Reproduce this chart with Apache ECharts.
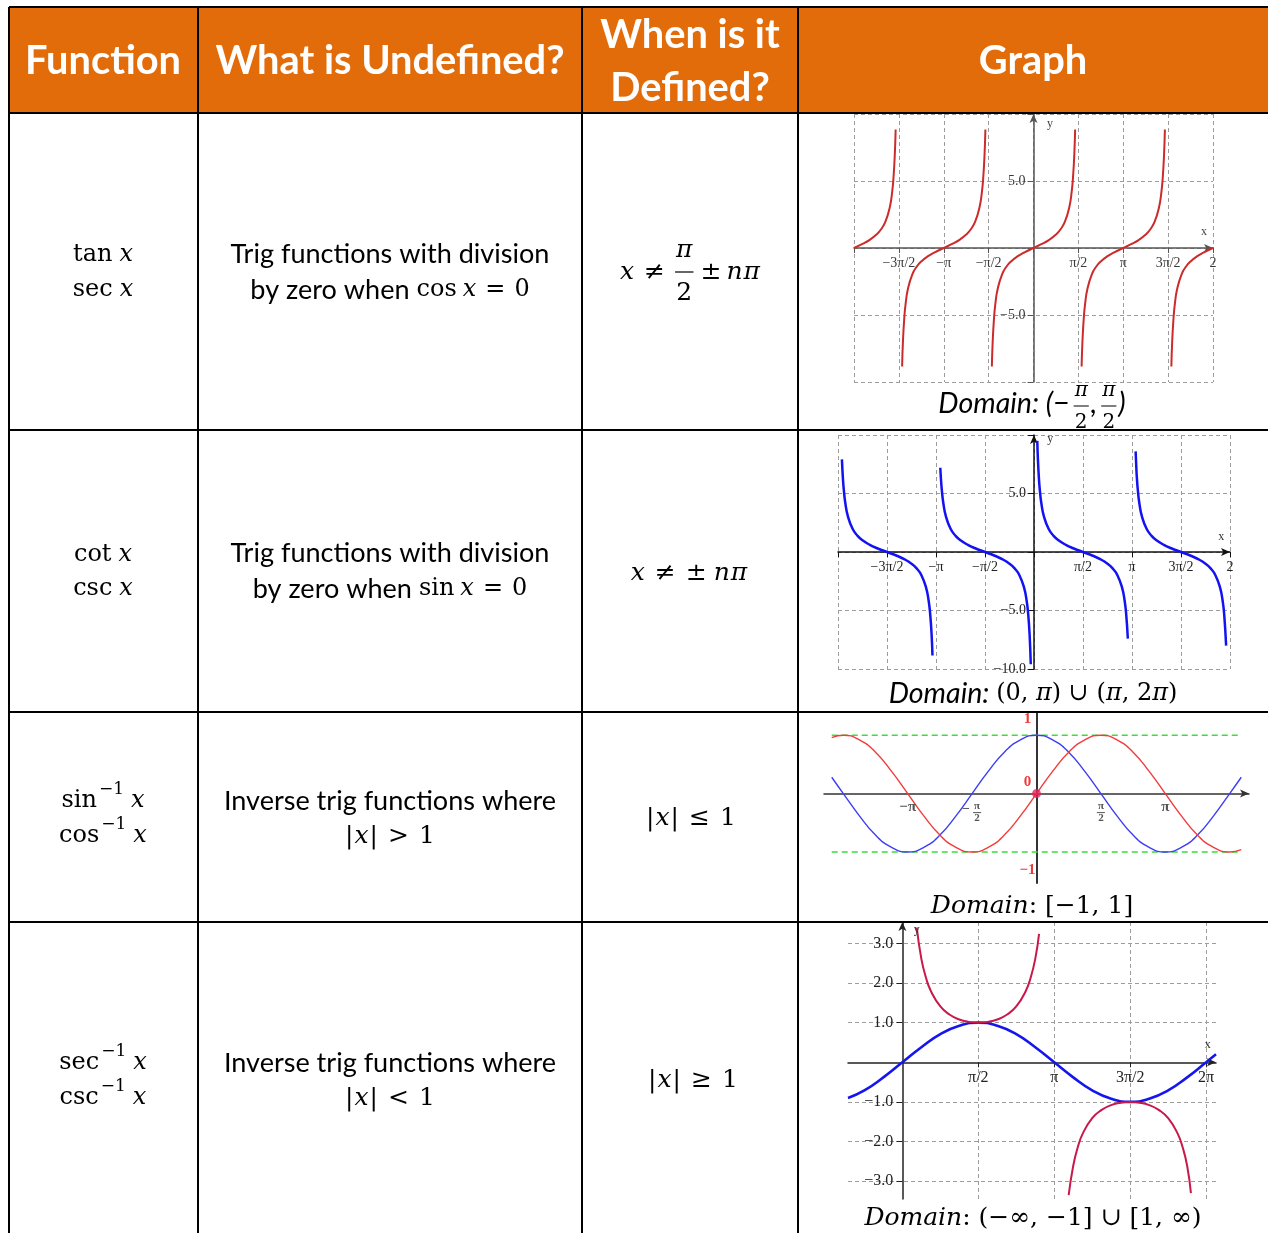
<!DOCTYPE html>
<html><head><meta charset="utf-8">
<script src="https://cdn.jsdelivr.net/npm/echarts@6/dist/echarts.min.js"></script>
<style>html,body{margin:0;padding:0;background:#fff}#c{width:1268px;height:1233px}</style>
</head><body><div id="c"></div>
<script>
// ================= DATA (x in units of pi/2) =================
// Graph 1: tan x (red)
const tanBranch1X = [-4,-3.8,-3.65,-3.5,-3.4,-3.3,-3.2,-3.15,-3.12,-3.09,-3.072];
const tanBranch1Y = [0,0.32,0.61,1,1.38,1.96,3.08,4.17,5.24,7.03,8.85];
const tanBranch2X = [-2.928,-2.91,-2.88,-2.85,-2.8,-2.7,-2.6,-2.5,-2.35,-2.2,-2,-1.8,-1.65,-1.5,-1.4,-1.3,-1.2,-1.15,-1.12,-1.09,-1.072];
const tanBranch2Y = [-8.85,-7.03,-5.24,-4.17,-3.08,-1.96,-1.38,-1,-0.61,-0.32,0,0.32,0.61,1,1.38,1.96,3.08,4.17,5.24,7.03,8.85];
const tanBranch3X = [-0.928,-0.91,-0.88,-0.85,-0.8,-0.7,-0.6,-0.5,-0.35,-0.2,0,0.2,0.35,0.5,0.6,0.7,0.8,0.85,0.88,0.91,0.928];
const tanBranch3Y = [-8.85,-7.03,-5.24,-4.17,-3.08,-1.96,-1.38,-1,-0.61,-0.32,0,0.32,0.61,1,1.38,1.96,3.08,4.17,5.24,7.03,8.85];
const tanBranch4X = [1.072,1.09,1.12,1.15,1.2,1.3,1.4,1.5,1.65,1.8,2,2.2,2.35,2.5,2.6,2.7,2.8,2.85,2.88,2.91,2.928];
const tanBranch4Y = [-8.85,-7.03,-5.24,-4.17,-3.08,-1.96,-1.38,-1,-0.61,-0.32,0,0.32,0.61,1,1.38,1.96,3.08,4.17,5.24,7.03,8.85];
const tanBranch5X = [3.072,3.09,3.12,3.15,3.2,3.3,3.4,3.5,3.65,3.8,4];
const tanBranch5Y = [-8.85,-7.03,-5.24,-4.17,-3.08,-1.96,-1.38,-1,-0.61,-0.32,0];
// Graph 2: cot x (blue)
const cotBranch1X = [-3.92,-3.9,-3.88,-3.85,-3.8,-3.7,-3.6,-3.5,-3.35,-3.2,-3,-2.8,-2.65,-2.5,-2.4,-2.3,-2.2,-2.15,-2.12,-2.09,-2.072];
const cotBranch1Y = [7.92,6.31,5.24,4.17,3.08,1.96,1.38,1,0.61,0.32,0,-0.32,-0.61,-1,-1.38,-1.96,-3.08,-4.17,-5.24,-7.03,-8.85];
const cotBranch2X = [-1.912,-1.9,-1.88,-1.85,-1.8,-1.7,-1.6,-1.5,-1.35,-1.2,-1,-0.8,-0.65,-0.5,-0.4,-0.3,-0.2,-0.15,-0.12,-0.09,-0.066];
const cotBranch2Y = [7.2,6.31,5.24,4.17,3.08,1.96,1.38,1,0.61,0.32,0,-0.32,-0.61,-1,-1.38,-1.96,-3.08,-4.17,-5.24,-7.03,-9.6];
const cotBranch3X = [0.067,0.08,0.1,0.12,0.15,0.2,0.3,0.4,0.5,0.65,0.8,1,1.2,1.35,1.5,1.6,1.7,1.8,1.85,1.88,1.915];
const cotBranch3Y = [9.5,7.92,6.31,5.24,4.17,3.08,1.96,1.38,1,0.61,0.32,0,-0.32,-0.61,-1,-1.38,-1.96,-3.08,-4.17,-5.24,-7.4];
const cotBranch4X = [2.074,2.09,2.1,2.12,2.15,2.2,2.3,2.4,2.5,2.65,2.8,3,3.2,3.35,3.5,3.6,3.7,3.8,3.85,3.88,3.921];
const cotBranch4Y = [8.6,7.03,6.31,5.24,4.17,3.08,1.96,1.38,1,0.61,0.32,0,-0.32,-0.61,-1,-1.38,-1.96,-3.08,-4.17,-5.24,-8.0];
// Graph 3: sin (red), cos (blue), bounds y = ±1 (green)
const waveX = [-3.18,-3,-2.75,-2.5,-2.25,-2,-1.75,-1.5,-1.25,-1,-0.75,-0.5,-0.25,0,0.25,0.5,0.75,1,1.25,1.5,1.75,2,2.25,2.5,2.75,3,3.18];
const waveSinY = [0.96,1,0.92,0.71,0.38,0,-0.38,-0.71,-0.92,-1,-0.92,-0.71,-0.38,0,0.38,0.71,0.92,1,0.92,0.71,0.38,0,-0.38,-0.71,-0.92,-1,-0.96];
const waveCosY = [0.28,0,-0.38,-0.71,-0.92,-1,-0.92,-0.71,-0.38,0,0.38,0.71,0.92,1,0.92,0.71,0.38,0,-0.38,-0.71,-0.92,-1,-0.92,-0.71,-0.38,0,0.28];
const boundX = [-3.18, 3.18];
const boundUpperY = [1, 1];
const boundLowerY = [-1, -1];
const originPoint = [0, 0];
// Graph 4: sin (blue), csc (crimson)
const sin4X = [-0.716,-0.5,-0.25,0,0.25,0.5,0.75,1,1.25,1.5,1.75,2,2.25,2.5,2.75,3,3.25,3.5,3.75,4,4.13];
const sin4Y = [-0.9,-0.71,-0.38,0,0.38,0.71,0.92,1,0.92,0.71,0.38,0,-0.38,-0.71,-0.92,-1,-0.92,-0.71,-0.38,0,0.2];
const csc1X = [0.19,0.25,0.31,0.375,0.5,0.625,0.75,0.875,1,1.125,1.25,1.375,1.5,1.625,1.69,1.75,1.8];
const csc1Y = [3.4,2.61,2.14,1.8,1.41,1.2,1.08,1.02,1,1.02,1.08,1.2,1.41,1.8,2.14,2.61,3.24];
const csc2X = [2.19,2.25,2.31,2.375,2.5,2.625,2.75,2.875,3,3.125,3.25,3.375,3.5,3.625,3.69,3.75,3.8];
const csc2Y = [-3.35,-2.61,-2.14,-1.8,-1.41,-1.2,-1.08,-1.02,-1,-1.02,-1.08,-1.2,-1.41,-1.8,-2.14,-2.61,-3.3];
// Tick labels
const g1XValues = [-3,-2,-1,1,2,3,4];
const g1XLabels = ['\u22123\u03c0/2','\u2212\u03c0','\u2212\u03c0/2','\u03c0/2','\u03c0','3\u03c0/2','2'];
const g1YValues = [-5,5];
const g1YLabels = ['\u22125.0','5.0'];
const g2XValues = [-3,-2,-1,1,2,3,4];
const g2XLabels = ['\u22123\u03c0/2','\u2212\u03c0','\u2212\u03c0/2','\u03c0/2','\u03c0','3\u03c0/2','2'];
const g2YValues = [-10,-5,5];
const g2YLabels = ['\u221210.0','\u22125.0','5.0'];
const g3XValues = [-2,-1,1,2];
const g3YValues = [1.28,0.19,-1.31];
const g3YLabels = ['1','0','\u22121'];
const g4XValues = [1,2,3,4];
const g4XLabels = ['\u03c0/2','\u03c0','3\u03c0/2','2\u03c0'];
const g4YValues = [-3,-2,-1,1,2,3];
const g4YLabels = ['\u22123.0','\u22122.0','\u22121.0','1.0','2.0','3.0'];
// Table text
const headerTexts = ['Function','What is Undefined?','When is it','Defined?','Graph'];
const funcNames = [['tan','sec'],['cot','csc'],['sin','cos'],['sec','csc']];
const funcSup = ['','','\u22121','\u22121'];
const undefLine1 = ['Trig functions with division','Trig functions with division','Inverse trig functions where','Inverse trig functions where'];

// ================= LAYOUT =================
const SANS = 'Lato', MATH = 'DejaVu Serif', AXF = 'Liberation Serif';
const cv = document.createElement('canvas').getContext('2d');
function F(p){ return (p.it?'italic ':'') + (p.b?'bold ':'') + p.size + 'px "' + p.fam + '"'; }
function tw(t, font){ cv.font = font; return cv.measureText(t).width; }
const HS = 36 * 349 / tw('What is Undefined?', 'bold 36px "Lato"');
const BS = 25 * 319 / tw('Trig functions with division', '25px "Lato"');
const MS = 23;

function txt(t, x, y, font, align, fill, z){
  return {type:'text', x:x, y:y, z:z||20, silent:true,
    style:{text:t, font:font, fill:fill, align:align, verticalAlign:'middle', textAlign:align, textVerticalAlign:'middle'}};
}
function seg(x1,y1,x2,y2,color,w,z){
  return {type:'line', z:z||20, silent:true, shape:{x1:x1,y1:y1,x2:x2,y2:y2}, style:{stroke:color, lineWidth:w}};
}
function put(out, pieces, cx, cy, color){
  color = color || '#000';
  const ws = pieces.map(p => p.num !== undefined
    ? Math.max(tw(p.num, F(p)), tw(p.den, F(Object.assign({}, p, {it:false})))) + 4
    : tw(p.t, F(p)));
  let total = 0; pieces.forEach((p,i) => total += ws[i] + (p.gap||0));
  let x = cx - total/2;
  pieces.forEach((p,i) => {
    x += (p.gap||0);
    if (p.num !== undefined) {
      const mid = x + ws[i]/2;
      out.push(txt(p.num, mid, cy + p.nDy, F(p), 'center', color));
      out.push(txt(p.den, mid, cy + p.dDy, F(Object.assign({}, p, {it:false})), 'center', color));
      if (p.bar !== false) out.push(seg(x+1, cy+p.bDy, x+ws[i]-1, cy+p.bDy, color, p.bw||1.2));
    } else {
      out.push(txt(p.t, x, cy + (p.dy||0), F(p), 'left', color));
    }
    x += ws[i];
  });
}
const m  = (t,o) => Object.assign({t:t, fam:MATH, size:MS}, o||{});
const mi = (t,o) => m(t, Object.assign({it:true}, o||{}));
const s  = (t,o) => Object.assign({t:t, fam:SANS, size:BS}, o||{});
const fr = (n,d,o) => Object.assign({num:n, den:d, fam:MATH, size:MS, it:true, nDy:-21, dDy:20, bDy:0}, o||{});

const T = [];
// header band
T.push({type:'rect', z:0, silent:true, shape:{x:9,y:7,width:1270,height:106}, style:{fill:'#E36C0A'}});
// borders
[7,113,430,712,922].forEach(y => T.push(seg(9,y,1268,y,'#000',2,30)));
[9,198,582,798].forEach(x => T.push(seg(x,7,x,1233,'#000',2,30)));
// header text
const hf = 'bold ' + HS + 'px "Lato"';
T.push(txt(headerTexts[0], 103, 61, hf, 'center', '#fff'));
T.push(txt(headerTexts[1], 390, 61, hf, 'center', '#fff'));
T.push(txt(headerTexts[2], 690, 35, hf, 'center', '#fff'));
T.push(txt(headerTexts[3], 690, 88, hf, 'center', '#fff'));
T.push(txt(headerTexts[4], 1033, 61, hf, 'center', '#fff'));

// column 1: function names
const rowLines = [[255,290],[555,589],[801,836],[1063,1098]];
funcNames.forEach((pair, r) => {
  pair.forEach((nm, k) => {
    const pcs = [m(nm, {size:24})];
    if (funcSup[r]) pcs.push(m(funcSup[r], {size:17, dy:-11, gap:2}));
    pcs.push(mi('x', {gap:7, size:24}));
    put(T, pcs, 103, rowLines[r][k]);
  });
});
// column 2
put(T, [s(undefLine1[0])], 390, 254);
put(T, [s('by zero when'), m('cos',{gap:7,size:24}), mi('x',{gap:6,size:24}), m('=',{gap:9,size:24}), m('0',{gap:9,size:24})], 390, 290);
put(T, [s(undefLine1[1])], 390, 553);
put(T, [s('by zero when'), m('sin',{gap:7,size:24}), mi('x',{gap:6,size:24}), m('=',{gap:9,size:24}), m('0',{gap:9,size:24})], 390, 589);
put(T, [s(undefLine1[2])], 390, 801);
put(T, [m('|',{size:25}), mi('x',{gap:1,size:25}), m('|',{gap:1,size:25}), m('>',{gap:10,size:25}), m('1',{gap:10,size:25})], 390, 836);
put(T, [s(undefLine1[3])], 390, 1063);
put(T, [m('|',{size:25}), mi('x',{gap:1,size:25}), m('|',{gap:1,size:25}), m('<',{gap:10,size:25}), m('1',{gap:10,size:25})], 390, 1098);
// column 3
const C3 = 25;
put(T, [mi('x',{size:C3}), m('\u2260',{gap:10,size:C3}), fr('\u03c0','2',{gap:9,size:C3,nDy:-22,dDy:21}), m('\u00b1',{gap:6,size:C3}), mi('n',{gap:5,size:C3}), mi('\u03c0',{gap:1,size:C3})], 690, 272);
put(T, [mi('x',{size:C3}), m('\u2260',{gap:10,size:C3}), m('\u00b1',{gap:10,size:C3}), mi('n',{gap:7,size:C3}), mi('\u03c0',{gap:1,size:C3})], 689, 573);
put(T, [m('|',{size:C3}), mi('x',{gap:1,size:C3}), m('|',{gap:1,size:C3}), m('\u2264',{gap:10,size:C3}), m('1',{gap:10,size:C3})], 691, 818);
put(T, [m('|',{size:C3}), mi('x',{gap:1,size:C3}), m('|',{gap:1,size:C3}), m('\u2265',{gap:10,size:C3}), m('1',{gap:10,size:C3})], 693, 1080);
// domain captions
const DS = BS + 1.5;
put(T, [s('Domain: (\u2212',{it:true,size:DS}), fr('\u03c0','2',{size:20,nDy:-13,dDy:19,bDy:2,gap:3,bw:1}),
        s(',',{it:true,size:DS,gap:1}), fr('\u03c0','2',{size:20,nDy:-13,dDy:19,bDy:2,gap:3,bw:1}),
        s(')',{it:true,size:DS,gap:1})], 1032, 404);
put(T, [s('Domain: ',{it:true,size:DS}), m('(0, ',{size:24}), mi('\u03c0',{size:24}), m(') \u222a (',{size:24}),
        mi('\u03c0',{size:24}), m(', 2',{size:24}), mi('\u03c0',{size:24}), m(')',{size:24})], 1033, 694);
put(T, [mi('Domain',{size:25}), m(': [\u22121, 1]',{size:25})], 1032, 906);
put(T, [mi('Domain',{size:25}), m(': (\u2212\u221e, \u22121] \u222a [1, \u221e)',{size:25})], 1033, 1218);

// ================= CHART =================
const chart = echarts.init(document.getElementById('c'), null, {renderer:'canvas'});
function pairs(xs, ys){ return xs.map((x,i) => [x, ys[i]]); }
function fmt(values, labels){ return v => { const i = values.indexOf(Math.round(v*1000)/1000); return i < 0 ? '' : labels[i]; }; }
function curve(gi, xs, ys, color, width, extra){
  return Object.assign({type:'line', xAxisIndex:gi, yAxisIndex:gi, data:pairs(xs,ys), showSymbol:false, symbol:'none',
    smooth:0.5, silent:true, z:3, lineStyle:{color:color, width:width}}, extra||{});
}
const dash = {show:true, lineStyle:{color:'#9c9c9c', type:[4,3], width:1}};
function arrowLine(color, w){ return {show:true, onZero:false, symbol:['none','arrow'], symbolSize:[6,9], lineStyle:{color:color, width:w}}; }
const labelBase = {color:'#3a3a3a', fontFamily:AXF, fontSize:14, showMinLabel:true, showMaxLabel:true};

const option = {
  animation:false,
  backgroundColor:'#fff',
  grid:[
    {left:854, top:114, width:359, height:268, outerBoundsMode:'none'},
    {left:838, top:435, width:392, height:234, outerBoundsMode:'none'},
    {left:824, top:713, width:425, height:170, outerBoundsMode:'none'},
    {left:848, top:922, width:368, height:277, outerBoundsMode:'none'}
  ],
  xAxis:[
    {gridIndex:0, type:'value', position:'bottom', min:-4, max:4, interval:1, axisLine:arrowLine('#555',1.5),
     axisTick:{show:true, length:5, lineStyle:{color:'#555'}},
     axisLabel:Object.assign({}, labelBase, {margin:8, formatter:fmt(g1XValues,g1XLabels)}), splitLine:dash},
    {gridIndex:1, type:'value', position:'bottom', min:-4, max:4, interval:1, axisLine:arrowLine('#111',1.5),
     axisTick:{show:true, length:5, lineStyle:{color:'#111'}},
     axisLabel:Object.assign({}, labelBase, {margin:8, formatter:fmt(g2XValues,g2XLabels), color:'#222'}), splitLine:dash},
    {gridIndex:2, type:'value', position:'bottom', min:-3.3, max:3.3, axisLine:arrowLine('#333',1.5),
     axisTick:{show:false}, axisLabel:{show:false}, splitLine:{show:false}},
    {gridIndex:3, type:'value', position:'bottom', min:-0.716, max:4.13, axisLine:arrowLine('#222',1.5),
     axisTick:{show:true, length:5, customValues:g4XValues, lineStyle:{color:'#222'}},
     axisLabel:Object.assign({}, labelBase, {margin:8, fontSize:16, customValues:g4XValues, formatter:fmt(g4XValues,g4XLabels), color:'#222'}),
     splitLine:dash}
  ],
  yAxis:[
    {gridIndex:0, type:'value', position:'left', min:-10, max:10, interval:5, axisLine:arrowLine('#555',1.5),
     axisTick:{show:true, length:6, lineStyle:{color:'#555'}},
     axisLabel:Object.assign({}, labelBase, {margin:8, formatter:fmt(g1YValues,g1YLabels)}), splitLine:dash},
    {gridIndex:1, type:'value', position:'left', min:-10, max:10, interval:5, axisLine:arrowLine('#111',1.5),
     axisTick:{show:true, length:6, lineStyle:{color:'#111'}},
     axisLabel:Object.assign({}, labelBase, {margin:8, formatter:fmt(g2YValues,g2YLabels), color:'#222'}), splitLine:dash},
    {gridIndex:2, type:'value', position:'left', min:-1.53, max:1.38, axisLine:{show:true, onZero:false, lineStyle:{color:'#333', width:2}},
     axisTick:{show:false}, axisLabel:{show:false}, splitLine:{show:false}},
    {gridIndex:3, type:'value', position:'left', min:-3.45, max:3.54, axisLine:arrowLine('#222',1.5),
     axisTick:{show:true, length:6, customValues:g4YValues, lineStyle:{color:'#222'}},
     axisLabel:Object.assign({}, labelBase, {margin:9, fontSize:16, customValues:g4YValues, formatter:fmt(g4YValues,g4YLabels), color:'#222'}),
     splitLine:dash}
  ],
  series:[
    curve(0, tanBranch1X, tanBranch1Y, '#CC2B2B', 2),
    curve(0, tanBranch2X, tanBranch2Y, '#CC2B2B', 2),
    curve(0, tanBranch3X, tanBranch3Y, '#CC2B2B', 2),
    curve(0, tanBranch4X, tanBranch4Y, '#CC2B2B', 2),
    curve(0, tanBranch5X, tanBranch5Y, '#CC2B2B', 2),
    curve(1, cotBranch1X, cotBranch1Y, '#1212F2', 2.5),
    curve(1, cotBranch2X, cotBranch2Y, '#1212F2', 2.5),
    curve(1, cotBranch3X, cotBranch3Y, '#1212F2', 2.5),
    curve(1, cotBranch4X, cotBranch4Y, '#1212F2', 2.5),
    curve(2, boundX, boundUpperY, '#3ADF3A', 1.6, {smooth:false, lineStyle:{color:'#3ADF3A', width:1.6, type:[6,4]}}),
    curve(2, boundX, boundLowerY, '#3ADF3A', 1.6, {smooth:false, lineStyle:{color:'#3ADF3A', width:1.6, type:[6,4]}}),
    curve(2, waveX, waveCosY, '#3D3DF5', 1.4),
    curve(2, waveX, waveSinY, '#F23B3B', 1.4),
    {type:'scatter', xAxisIndex:2, yAxisIndex:2, data:[originPoint], symbolSize:9, silent:true, z:5, itemStyle:{color:'#E8225C'}},
    curve(3, sin4X, sin4Y, '#1515EE', 2.6),
    curve(3, csc1X, csc1Y, '#C8194A', 2),
    curve(3, csc2X, csc2Y, '#C8194A', 2)
  ]
};
chart.setOption(option);

const px = (gi, x, y) => chart.convertToPixel({xAxisIndex:gi, yAxisIndex:gi}, [x, y]);
// move each axis onto the other axis' zero, using the library's own scale
const yMins = [-10, -10, -1.53, -3.45];
const xMins = [-4, -4, -3.3, -0.716];
const xOff = [], yOff = [];
for (let gi = 0; gi < 4; gi++) {
  const zero = px(gi, 0, 0);
  const bottom = px(gi, 0, yMins[gi])[1];
  const left = px(gi, xMins[gi], 0)[0];
  xOff.push({offset: -(bottom - zero[1])});
  yOff.push({offset: -(zero[0] - left)});
}
chart.setOption({xAxis: xOff, yAxis: yOff});

// labels that sit on the graphs, placed through the axes' scales
const L = [];
const nameFont = '12px "Liberation Serif"';
let p;
p = px(0, 0.3, 9.3);   L.push(txt('y', p[0], p[1], nameFont, 'left', '#444'));
p = px(0, 3.8, 1.2);   L.push(txt('x', p[0], p[1], nameFont, 'center', '#444'));
p = px(1, 0.27, 9.7);  L.push(txt('y', p[0], p[1], nameFont, 'left', '#333'));
p = px(1, 3.82, 1.3);  L.push(txt('x', p[0], p[1], nameFont, 'center', '#333'));
p = px(3, 0.15, 3.35); L.push(txt('y', p[0], p[1], nameFont, 'left', '#333'));
p = px(3, 4.02, 0.45); L.push(txt('x', p[0], p[1], nameFont, 'center', '#333'));
// graph 3 red y labels
g3YValues.forEach((v, i) => {
  const q = px(2, -0.14, v);
  L.push(txt(g3YLabels[i], q[0], q[1], 'bold 15px "Liberation Serif"', 'center', '#F03A3A'));
});
// graph 3 x labels
const g3c = '#555';
p = px(2, g3XValues[0], 0); L.push(txt('\u2212\u03c0', p[0], p[1] + 13.5, 'bold 15px "Liberation Serif"', 'center', g3c));
p = px(2, g3XValues[1], 0);
put(L, [{t:'\u2212', fam:AXF, size:14, b:true, dy:-2},
        {num:'\u03c0', den:'2', fam:AXF, size:11, b:true, it:false, nDy:-5, dDy:7, bDy:1, bw:1, gap:2}], p[0], p[1] + 18, g3c);
p = px(2, g3XValues[2], 0);
put(L, [{num:'\u03c0', den:'2', fam:AXF, size:11, b:true, it:false, nDy:-5, dDy:7, bDy:1, bw:1}], p[0], p[1] + 18, g3c);
p = px(2, g3XValues[3], 0); L.push(txt('\u03c0', p[0], p[1] + 13.5, 'bold 15px "Liberation Serif"', 'center', g3c));

chart.setOption({graphic: T.concat(L)});
</script>
</body></html>
